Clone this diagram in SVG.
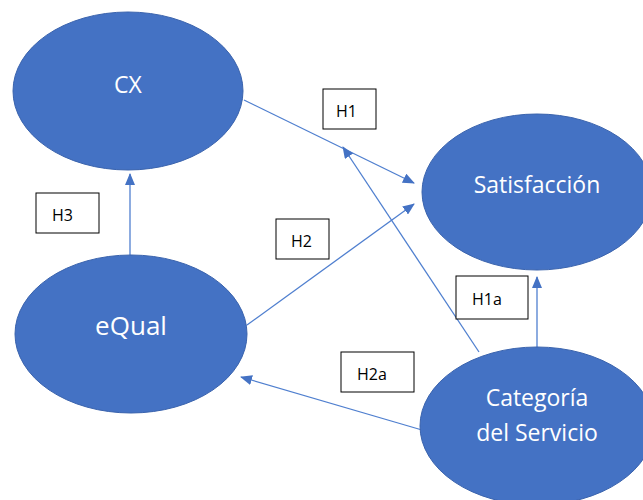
<svg xmlns="http://www.w3.org/2000/svg" width="643" height="500" viewBox="0 0 643 500">
<style>
.node{fill:#4472C4;stroke:#3A63AD;stroke-width:1}
.nt{font-family:"Open Sans","Liberation Sans",sans-serif;font-size:23px;fill:#fff;text-anchor:middle}
.conn{stroke:#4F7FCF;stroke-width:1.3;fill:none;marker-end:url(#ah)}
.lb{fill:#fff;stroke:#000;stroke-width:1}
.lt{font-family:"Open Sans","Liberation Sans",sans-serif;font-size:16px;fill:#000}
</style>
<defs>
<marker id="ah" markerWidth="12" markerHeight="10" refX="11" refY="5" orient="auto" markerUnits="userSpaceOnUse">
<path d="M0,0 L12,5 L0,10 Z" fill="#4472C4"/>
</marker>
</defs>
<rect width="643" height="500" fill="#fff"/>
<g id="connectors">
<line class="conn" x1="244" y1="100" x2="414" y2="183"/>
<line class="conn" x1="247" y1="325" x2="414" y2="204"/>
<line class="conn" x1="479" y1="352" x2="343" y2="147"/>
<line class="conn" x1="130" y1="255" x2="130" y2="174"/>
<line class="conn" x1="537" y1="347" x2="537" y2="277"/>
<line class="conn" x1="422" y1="430" x2="241" y2="377"/>
</g>
<g id="cx">
<ellipse class="node" cx="128" cy="91" rx="115" ry="79"/>
<text class="nt" x="128" y="93">CX</text>
</g>
<g id="satisfaccion">
<ellipse class="node" cx="537" cy="192" rx="115" ry="78"/>
<text class="nt" x="537" y="193">Satisfacción</text>
</g>
<g id="equal">
<ellipse class="node" cx="131" cy="334" rx="116" ry="79"/>
<text class="nt" x="131" y="335" style="font-size:26px">eQual</text>
</g>
<g id="categoria">
<ellipse class="node" cx="537" cy="426" rx="117" ry="79"/>
<text class="nt" x="537" y="406">Categoría</text>
<text class="nt" x="537" y="441">del Servicio</text>
</g>
<g id="label-h1">
<rect class="lb" x="323" y="89" width="53" height="40"/>
<text class="lt" x="336" y="117">H1</text>
</g>
<g id="label-h2">
<rect class="lb" x="276" y="219" width="53" height="40"/>
<text class="lt" x="291" y="247">H2</text>
</g>
<g id="label-h3">
<rect class="lb" x="36" y="193" width="63" height="40"/>
<text class="lt" x="52" y="221">H3</text>
</g>
<g id="label-h1a">
<rect class="lb" x="456" y="276" width="72" height="43"/>
<text class="lt" x="472" y="305">H1a</text>
</g>
<g id="label-h2a">
<rect class="lb" x="341" y="352" width="73" height="40"/>
<text class="lt" x="357" y="380">H2a</text>
</g>
</svg>
